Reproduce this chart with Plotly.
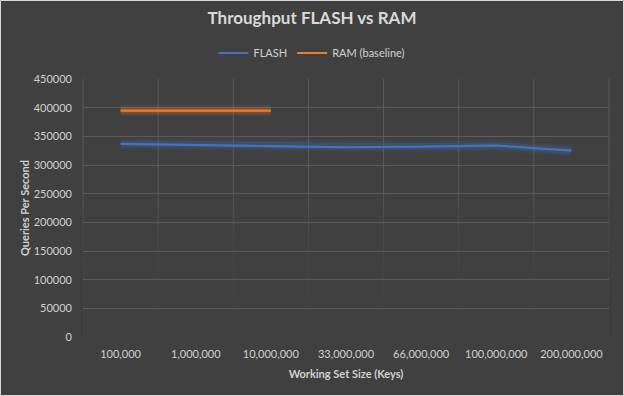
import plotly.graph_objects as go

categories = ["100,000", "1,000,000", "10,000,000", "33,000,000", "66,000,000", "100,000,000", "200,000,000"]
flash_qps = [337000, 335000, 333000, 331000, 332000, 334000, 325000]
ram_categories = ["100,000", "1,000,000", "10,000,000"]
ram_qps = [395000, 395000, 395000]
y_ticks = [0, 50000, 100000, 150000, 200000, 250000, 300000, 350000, 400000, 450000]

BG = "#404040"
GRID = "#5b5b5b"
TXT = "#d0d0d0"
BLUE = "#4472C4"
ORANGE = "#ED7D31"
FONT = "Lato"

W, H = 624, 396
ML, MR, MT, MB = 83, 15, 79, 59
PW, PH = W - ML - MR, H - MT - MB

fig = go.Figure()

# glow underlays
for w, op in [(11, 0.10), (7, 0.18)]:
    fig.add_trace(go.Scatter(x=categories, y=flash_qps, mode="lines",
                             line=dict(color=BLUE, width=w), opacity=op,
                             showlegend=False, hoverinfo="skip"))
    fig.add_trace(go.Scatter(x=ram_categories, y=ram_qps, mode="lines",
                             line=dict(color=ORANGE, width=w), opacity=op,
                             showlegend=False, hoverinfo="skip"))

fig.add_trace(go.Scatter(x=categories, y=flash_qps, mode="lines", name="FLASH",
                         line=dict(color=BLUE, width=2.2)))
fig.add_trace(go.Scatter(x=ram_categories, y=ram_qps, mode="lines", name="RAM (baseline)",
                         line=dict(color=ORANGE, width=2.2)))

shapes = []
# vertical category boundary gridlines
n = len(categories)
for k in range(n + 1):
    xp = k / n
    shapes.append(dict(type="line", xref="paper", yref="paper", x0=xp, x1=xp, y0=0, y1=1,
                       line=dict(color=GRID, width=1), layer="below"))
# fading gridlines toward the bottom
for i in range(7):
    top = 250000 - i * 30000
    shapes.append(dict(type="rect", xref="paper", yref="y", x0=-0.002, x1=1.002, y0=-2000, y1=top,
                       fillcolor=BG, opacity=0.25, line=dict(width=0), layer="between"))
shapes.append(dict(type="rect", xref="paper", yref="y", x0=-0.002, x1=1.002, y0=-3000, y1=45000,
                   fillcolor=BG, opacity=1, line=dict(width=0), layer="between"))
# outer border
shapes.append(dict(type="rect", xref="paper", yref="paper",
                   x0=-(ML - 0.5) / PW, x1=1 + (MR - 0.5) / PW, y0=-(MB - 0.5) / PH, y1=1 + (MT - 0.5) / PH,
                   line=dict(color="#d9d9d9", width=1), fillcolor="rgba(0,0,0,0)", layer="below"))

fig.update_layout(
    width=W, height=H, autosize=False,
    margin=dict(l=ML, r=MR, t=MT, b=MB, autoexpand=False),
    paper_bgcolor=BG, plot_bgcolor=BG,
    font=dict(family=FONT, color=TXT, size=11),
    title=dict(text="<b>Throughput FLASH vs RAM</b>", x=0.5, xanchor="center",
               y=1 - 18 / H, yanchor="middle", font=dict(size=17, color="#d9d9d9", family=FONT)),
    legend=dict(orientation="h", x=(312 - ML) / PW, xanchor="center",
                y=1 + (MT - 53) / PH, yanchor="middle",
                font=dict(size=11, color=TXT), bgcolor="rgba(0,0,0,0)"),
    shapes=shapes,
    showlegend=True,
)

fig.update_xaxes(type="category", categoryorder="array", categoryarray=categories,
                 range=[-0.5, n - 0.5], showgrid=False, zeroline=False, showline=False,
                 ticks="", ticklabelstandoff=9, tickfont=dict(size=11, color=TXT),
                 title=dict(text="<b>Working Set Size (Keys)</b>", standoff=11,
                            font=dict(size=11, color="#d0d0d0")))
fig.update_yaxes(range=[0, 450000], tickvals=y_ticks, ticktext=[str(v) for v in y_ticks],
                 showgrid=True, gridcolor=GRID, gridwidth=1, zeroline=False, showline=False,
                 ticks="", ticklabelstandoff=10, tickfont=dict(size=11, color=TXT),
                 title=dict(text="<b>Queries Per Second</b>", standoff=1,
                            font=dict(size=11, color="#d0d0d0")))

fig.write_html("out.html", config={"displayModeBar": False},
               post_script="document.body.style.margin='0';document.body.style.padding='0';")
